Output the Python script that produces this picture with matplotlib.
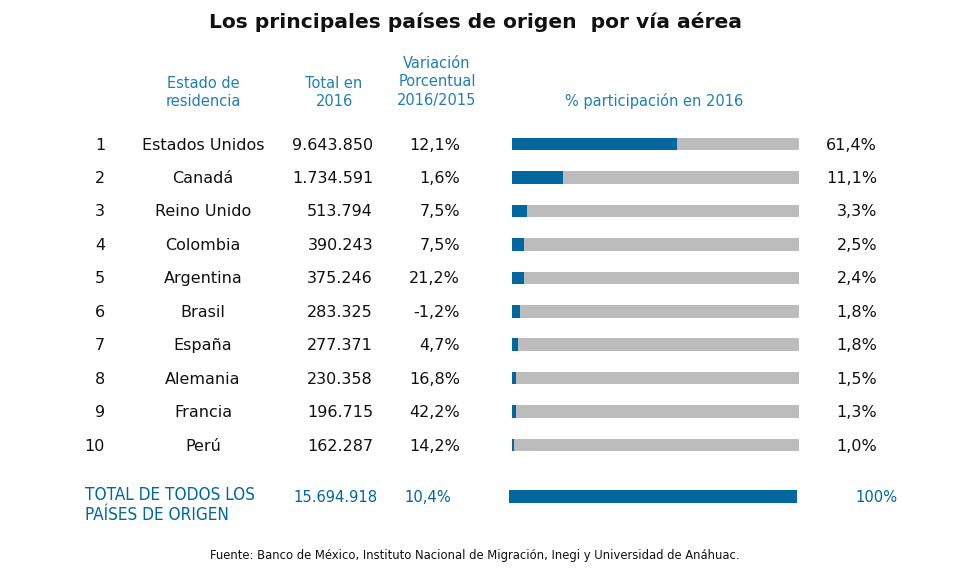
import matplotlib.pyplot as plt
import numpy as np

# data
ranks = [1, 2, 3, 4, 5, 6, 7, 8, 9, 10]
countries = ['Estados Unidos', 'Canadá', 'Reino Unido', 'Colombia', 'Argentina',
             'Brasil', 'España', 'Alemania', 'Francia', 'Perú']
totals = ['9.643.850', '1.734.591', '513.794', '390.243', '375.246',
          '283.325', '277.371', '230.358', '196.715', '162.287']
variation = ['12,1%', '1,6%', '7,5%', '7,5%', '21,2%',
             '-1,2%', '4,7%', '16,8%', '42,2%', '14,2%']
share_labels = ['61,4%', '11,1%', '3,3%', '2,5%', '2,4%',
                '1,8%', '1,8%', '1,5%', '1,3%', '1,0%']
# bar lengths as drawn in the original (% of the gray track)
bar_share = [57.5, 18.0, 5.4, 4.3, 4.3, 2.8, 2.4, 1.5, 1.4, 0.8]
total_all = '15.694.918'
total_var = '10,4%'
total_share = 100

blue = '#00679f'
head = '#1f7fb5'
gray = '#bcbcbc'

fig = plt.figure(figsize=(9.8, 5.73), dpi=100)
ax = fig.add_axes([0, 0, 1, 1])
ax.set_xlim(0, 980)
ax.set_ylim(573, 0)
ax.axis('off')

ax.text(475, 22, 'Los principales países de origen  por vía aérea', ha='center', va='center',
        fontsize=14.6, fontweight='bold', color='#111111')

hs = 10.5
ax.text(203, 92, 'Estado de\nresidencia', ha='center', va='center', fontsize=hs, color=head, linespacing=1.25)
ax.text(334, 92, 'Total en\n2016', ha='center', va='center', fontsize=hs, color=head, linespacing=1.25)
ax.text(437, 82, 'Variación\nPorcentual\n2016/2015', ha='center', va='center', fontsize=hs, color=head, linespacing=1.25)
ax.text(654, 101, '% participación en 2016', ha='center', va='center', fontsize=hs, color=head)

y0 = 144
step = 33.45
ys = y0 + step * np.arange(len(ranks))
bx = 511.5
bw = 287

ax.barh(ys, [bw] * len(ys), left=bx, height=12.5, color=gray)
ax.barh(ys, np.array(bar_share) / 100 * bw, left=bx, height=12.5, color=blue)

fs = 11.5
for i, y in enumerate(ys):
    ax.text(105, y + 1, str(ranks[i]), ha='right', va='center', fontsize=fs, color='#111111')
    ax.text(203, y + 1, countries[i], ha='center', va='center', fontsize=fs, color='#111111')
    ax.text(373, y + 1, totals[i], ha='right', va='center', fontsize=fs, color='#111111')
    ax.text(460, y + 1, variation[i], ha='right', va='center', fontsize=fs, color='#111111')
    ax.text(877, y + 1, share_labels[i], ha='right', va='center', fontsize=fs, color='#111111')

# total row
ax.barh([496], [total_share / 100 * 288], left=509, height=13, color=blue)
cond = dict(family=['DejaVu Sans'], stretch='condensed', color=blue)
ax.text(85, 505, 'TOTAL DE TODOS LOS\nPAÍSES DE ORIGEN', ha='left', va='center', linespacing=1.2,
        fontsize=12.3, **cond)
ax.text(335, 497, total_all, ha='center', va='center', fontsize=11.8, **cond)
ax.text(428, 497, total_var, ha='center', va='center', fontsize=11.8, **cond)
ax.text(876, 497, '%d%%' % total_share, ha='center', va='center', fontsize=11.8, **cond)

ax.text(475, 556, 'Fuente: Banco de México, Instituto Nacional de Migración, Inegi y Universidad de Anáhuac.',
        ha='center', va='center', fontsize=9.3, family=['DejaVu Sans'], stretch='condensed', color='#111111')

plt.savefig('out.png', dpi=100)
